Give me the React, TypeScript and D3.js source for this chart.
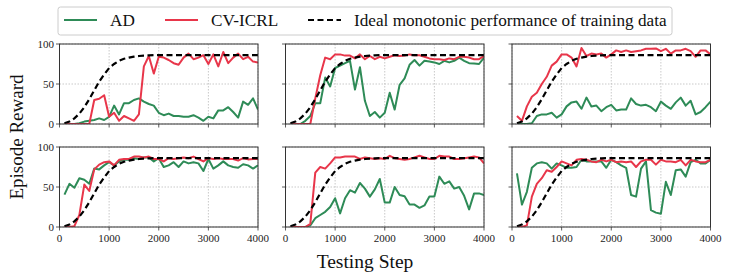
import React from "react";
import * as d3 from "d3";

// testing steps (x) shared by all six runs
const steps = d3.range(100, 4001, 100);

const ideal = [1, 3, 7, 13, 21, 31, 42, 53, 62, 70, 75, 79, 81.5, 83, 84.2, 85, 85.5, 85.8, 86, 86,
  86, 86, 86, 86, 86, 86, 86, 86, 86, 86, 86, 86, 86, 86, 86, 86, 86, 86, 86, 86];

const ad1 = [0, 0, 0, 1, 3, 4, 5, 7, 5, 9, 23, 12, 26, 26, 30, 32, 28, 25, 23, 14,
  11, 13, 10, 10, 9, 9, 11, 8, 4, 9, 7, 17, 17, 21, 15, 8, 28, 24, 32, 18];
const cv1 = [0, 0, 0, 0, 0, 0, 30, 31.5, 36, 9, 14, 4, 10, 7, 4, 12, 72, 85, 63, 84,
  83, 80, 76, 74, 83, 88, 81, 83, 86, 75, 87, 72, 90, 76, 83, 88, 81, 84, 78, 77];

const ad2 = [0, 0, 0, 4, 10, 26, 26, 58, 47, 70, 73, 76, 79, 43, 71, 29, 10, 15, 8, 14,
  39, 18, 49, 57, 74, 80, 73, 79, 78, 77, 75, 79, 77, 79, 83, 79, 76, 75.5, 75, 83];
const cv2 = [0, 0, 0, 0, 0, 32, 61, 83, 81, 87, 87, 85.5, 85.5, 82, 87, 81, 85, 81, 84, 82,
  84, 86, 85, 85.5, 87, 86, 86, 84, 82, 81, 81, 80, 82, 81, 84, 84, 83, 81, 81, 85];

const ad3 = [0, 0, 0, 1, 10, 12, 12, 14, 8, 12, 22, 27, 28, 19, 33, 22, 23, 16, 21, 24,
  17, 18, 18, 32, 25, 23, 24, 21, 16, 28, 23, 19, 27, 33, 23, 29, 12, 15, 21, 28];
const cv3 = [10, 4, 22, 34, 39, 50, 59, 73, 78, 87, 87, 83, 72, 95, 85, 88, 87, 88, 83, 87,
  92, 90, 92, 90, 91, 92, 94, 94, 94.5, 91, 94, 88, 92, 92, 94, 91, 84, 92, 92, 87];

const ad4 = [40.5, 54, 49, 61, 59, 54, 73, 72, 77, 81, 77, 82, 84, 84, 86, 85, 87, 87, 82, 86,
  75, 77, 81, 75, 82, 79.5, 81, 79.5, 70, 85, 73, 77, 82, 77, 75, 74, 78.5, 77, 73, 77];
const cv4 = [0, 0, 1, 15, 53, 45, 72, 78, 81, 82, 77, 84, 85, 85, 88, 88, 87, 88, 85, 85,
  82, 86, 85, 86, 87, 86, 88, 85, 82, 86, 85, 86, 85, 85, 85, 83, 86, 84.5, 85, 85];

const ad5 = [0, 0, 0, 0, 2, 11, 15, 19, 25, 36, 17, 36, 46, 43, 55, 48, 38, 47, 60, 30.5,
  30.5, 50, 40, 38.5, 28, 28, 24, 27, 38, 38, 63, 54, 57, 48, 50, 39, 22, 42, 42, 40];
const cv5 = [0, 0, 0, 0, 4, 68, 75, 73, 79.5, 87, 87, 88, 88, 88, 85, 87, 86, 85, 86, 85,
  89, 86, 85, 84, 85, 87, 89, 87, 85, 85, 89, 88, 88, 85, 85, 86, 87, 88, 87, 79.5];

const ad6 = [67, 28, 44, 74, 79.5, 81, 79.5, 73, 79.5, 77, 74, 74, 75, 84, 82, 82, 82, 82, 74, 84,
  81, 77, 74, 40, 38, 73, 82, 21, 18, 16.5, 56.5, 40, 71, 72, 63, 81, 84, 79.5, 79.5, 84];
const cv6 = [0, 0, 2, 38, 54, 61, 71, 69, 75, 82, 79.5, 77, 84, 85, 84, 82, 81, 84, 82, 84,
  81, 82, 81, 82, 75, 82, 84, 84, 78, 84, 82, 82, 81, 84, 77, 84, 82, 81, 81, 84];

const adRuns = [ad1, ad2, ad3, ad4, ad5, ad6];
const cvRuns = [cv1, cv2, cv3, cv4, cv5, cv6];

const xTicks = [0, 1000, 2000, 3000, 4000];
const yTicks = [0, 50, 100];
const legendNames = ["AD", "CV-ICRL", "Ideal monotonic performance of training data"];

const GREEN = "#2e8b57";
const RED = "#e8364a";
const FONT = "'Liberation Serif', 'Times New Roman', serif";

// panel boxes
const colLeft = [59.5, 285.5, 512];
const rowTop = [44, 147];
const pw = 198.5;
const ph = 80;

function Panel({ idx }: { idx: number }) {
  const row = Math.floor(idx / 3);
  const col = idx % 3;
  const x0 = colLeft[col];
  const y0 = rowTop[row];

  const x = d3.scaleLinear().domain([0, 4000]).range([0, pw]);
  const y = d3.scaleLinear().domain([0, 100]).range([ph, 0]);

  const line = d3.line<number>()
    .x((_, i) => x(steps[i]))
    .y(d => y(d));

  const clipId = "clip" + idx;

  return (
    <g transform={`translate(${x0},${y0})`}>
      <defs>
        <clipPath id={clipId}>
          <rect x={0} y={0} width={pw} height={ph} />
        </clipPath>
      </defs>
      {/* grid */}
      {xTicks.map(t => (
        <line key={"gx" + t} x1={x(t)} x2={x(t)} y1={0} y2={ph}
          stroke="#bbb" strokeWidth={0.8} strokeDasharray="1.5,1.5" />
      ))}
      {yTicks.map(t => (
        <line key={"gy" + t} x1={0} x2={pw} y1={y(t)} y2={y(t)}
          stroke="#bbb" strokeWidth={0.8} strokeDasharray="1.5,1.5" />
      ))}
      <g clipPath={`url(#${clipId})`}>
        <path d={line(adRuns[idx]) ?? ""} fill="none" stroke={GREEN} strokeWidth={2} strokeLinejoin="round" />
        <path d={line(cvRuns[idx]) ?? ""} fill="none" stroke={RED} strokeWidth={2} strokeLinejoin="round" />
        <path d={line(ideal) ?? ""} fill="none" stroke="#000" strokeWidth={2.2} strokeDasharray="6,3.5" />
      </g>
      {/* spines */}
      <rect x={0} y={0} width={pw} height={ph} fill="none" stroke="#333" strokeWidth={1} />
      {/* ticks */}
      {xTicks.map(t => (
        <line key={"tx" + t} x1={x(t)} x2={x(t)} y1={ph} y2={ph + 3.5} stroke="#333" strokeWidth={0.8} />
      ))}
      {yTicks.map(t => (
        <line key={"ty" + t} x1={-3.5} x2={0} y1={y(t)} y2={y(t)} stroke="#333" strokeWidth={0.8} />
      ))}
      {row === 1 && xTicks.map(t => (
        <text key={"lx" + t} x={x(t)} y={ph + 14.5} textAnchor="middle"
          fontFamily={FONT} fontSize={11} fill="#222">{t}</text>
      ))}
      {col === 0 && yTicks.map(t => (
        <text key={"ly" + t} x={-5.5} y={y(t)} dy="0.35em" textAnchor="end"
          fontFamily={FONT} fontSize={11} fill="#222">{t}</text>
      ))}
    </g>
  );
}

export default function App() {
  const legendX = [64, 165, 308];
  return (
    <svg width={730} height={278} style={{ position: "absolute", left: 0, top: 0, background: "#fff" }}>
      {/* legend */}
      <rect x={58} y={7} width={614} height={28} rx={2.5} fill="#fff" stroke="#ccc" strokeWidth={1} />
      {legendNames.map((name, i) => (
        <g key={name}>
          <line x1={legendX[i]} x2={legendX[i] + 33} y1={20} y2={20}
            stroke={i === 0 ? GREEN : i === 1 ? RED : "#000"} strokeWidth={2.2}
            strokeDasharray={i === 2 ? "6,3.5" : undefined} />
          <text x={legendX[i] + 46} y={25.5} fontFamily={FONT} fontSize={17.2} fill="#111">{name}</text>
        </g>
      ))}
      {d3.range(6).map(i => <Panel key={i} idx={i} />)}
      <text x={365} y={268} textAnchor="middle" fontFamily={FONT} fontSize={19.5} fill="#111">Testing Step</text>
      <text transform="translate(23,137) rotate(-90)" textAnchor="middle" fontFamily={FONT} fontSize={19} fill="#111">Episode Reward</text>
    </svg>
  );
}
